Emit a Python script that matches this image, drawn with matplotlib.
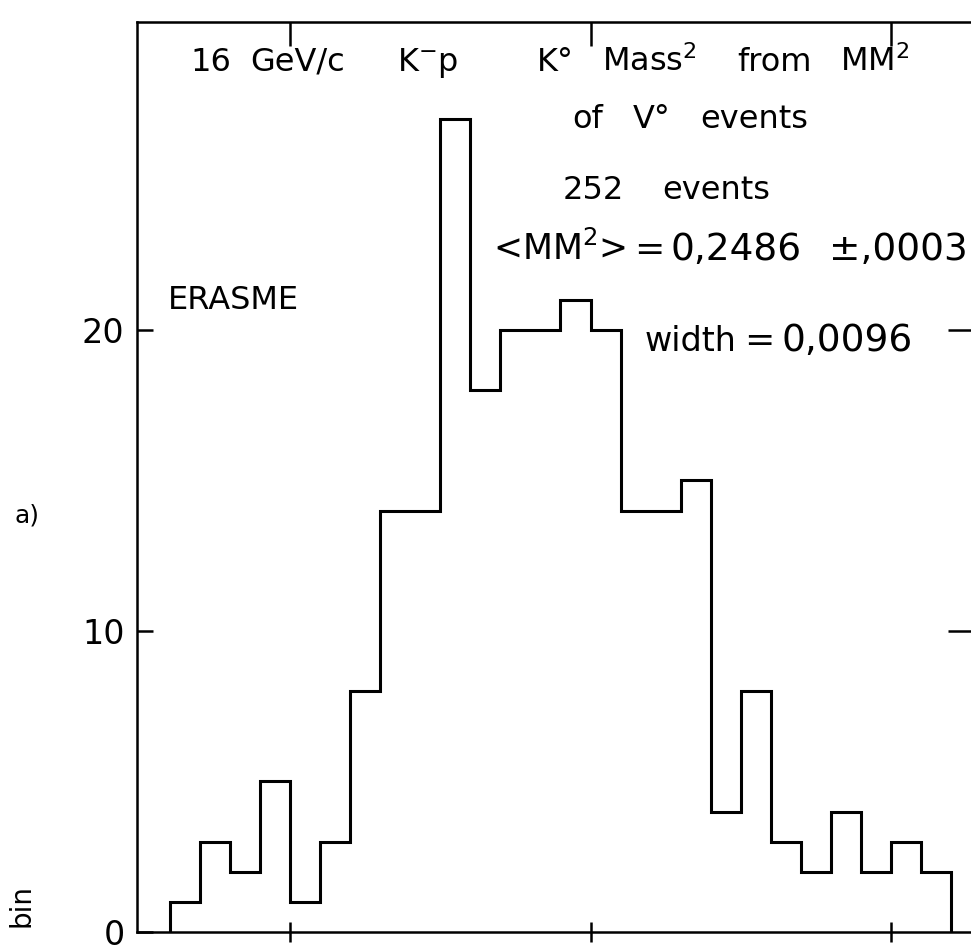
"""
K0 mass^2 from MM^2 of V0 events, 16 GeV/c K-p (ERASME)
重绘直方图
"""
import matplotlib
matplotlib.use('Agg')
import matplotlib.pyplot as plt

plt.rcParams['font.family'] = ['DejaVu Sans']

# 数据: 每个 bin 的事例数
bin_width = 0.002
first_edge = 0.222
counts = [1, 3, 2, 5, 1, 3, 8, 14, 14, 27, 18, 20, 20,
          21, 20, 14, 14, 15, 4, 8, 3, 2, 4, 2, 3, 2]
edges = [first_edge + bin_width * i for i in range(len(counts) + 1)]

x_ticks = [0.23, 0.25, 0.27]
y_ticks = [0, 10, 20]
y_tick_labels = ['0', '10', '20']

# 文字: (x像素, 基线y像素, 内容, 字号)
notes = [
    (190, 71, '16', 23),
    (250, 71, 'GeV/c', 23),
    (397, 71, 'K$^{-}$p', 23),
    (537, 71, 'K°', 23),
    (602, 71, 'Mass$^{2}$', 23),
    (737, 71, 'from', 23),
    (840, 71, 'MM$^{2}$', 23),
    (572, 128, 'of', 23),
    (633, 128, 'V°', 23),
    (700, 128, 'events', 23),
    (563, 199, '252', 23),
    (662, 199, 'events', 23),
    (493, 260, '<MM$^{2}$>', 25),
    (634, 260, '=', 26),
    (670, 260, '0,2486', 27),
    (829, 260, '±,0003', 27),
    (168, 309, 'ERASME', 23),
    (645, 351, 'width', 24),
    (744, 351, '=', 26),
    (781, 351, '0,0096', 27),
]

W, H = 971, 946
fig = plt.figure(figsize=(W / 100, H / 100), dpi=100)
fig.patch.set_facecolor('white')

left, right, top, bottom = 137, 973, 22, 932
ax = fig.add_axes([left / W, 1 - bottom / H, (right - left) / W, (bottom - top) / H])

ax.stairs(counts, edges, color='black', linewidth=2.2, baseline=0)

px_per_unit = (951 - 170) / (edges[-1] - edges[0])
ax.set_xlim(edges[0] - (170 - left) / px_per_unit, edges[0] + (right - 170) / px_per_unit)
ax.set_ylim(0, 30.23)

for s in ax.spines.values():
    s.set_linewidth(1.8)

ax.set_xticks(x_ticks)
ax.set_xticklabels([])
ax.tick_params(axis='x', direction='inout', length=15, width=1.8)
ax.set_yticks(y_ticks)
ax.set_yticklabels(y_tick_labels, fontsize=24)
ax.tick_params(axis='y', direction='in', length=11.5, width=1.8, pad=9)

# 上边和右边的刻度
top_ax = ax.secondary_xaxis('top')
top_ax.set_xticks(x_ticks)
top_ax.set_xticklabels([])
top_ax.tick_params(direction='in', length=17, width=1.8)
right_ax = ax.secondary_yaxis('right')
right_ax.set_yticks(y_ticks[1:])
right_ax.set_yticklabels([])
right_ax.tick_params(direction='in', length=18, width=1.8)

for x, y, s, size in notes:
    fig.text(x / W, 1 - y / H, s, fontsize=size, ha='left', va='baseline')

fig.text(27 / W, 1 - 516 / H, 'a)', fontsize=18, ha='center', va='center')
fig.text(22 / W, 1 - 905 / H, 'bin', fontsize=20, ha='center', va='center', rotation=90)

plt.savefig('out.png', dpi=100, facecolor='white')
